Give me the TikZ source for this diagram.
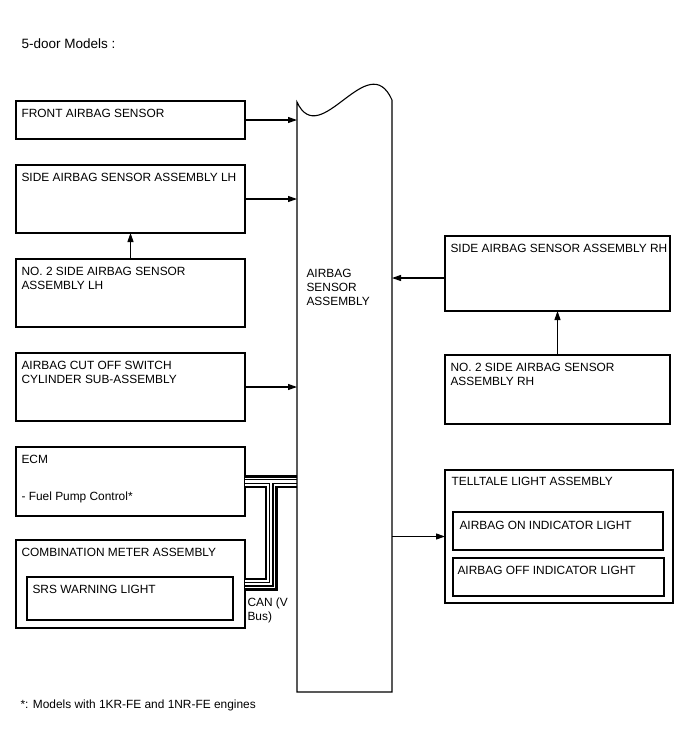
\documentclass[tikz,border=0pt]{standalone}
\usepackage{fontspec}
\setmainfont{Liberation Sans}
\usetikzlibrary{arrows.meta,calc}

\tikzset{
  box/.style={draw,anchor=north west,inner sep=0pt,outer sep=0pt},
  lbl/.style={anchor=north west,align=left,inner xsep=5pt,inner ysep=8pt},
}

\begin{document}
\begin{tikzpicture}[x=1pt,y=-1pt,line width=1.1pt,>={Triangle[length=9pt,width=6pt]},
    font=\fontsize{11.9}{14}\selectfont]
  \useasboundingbox (0,0) rectangle (688,755);
  \node[anchor=north west,inner sep=0pt,font=\fontsize{13.5}{16}\selectfont] (title) at (21,38) {5-door Models :};

  % left column
  \node[box,minimum width=229pt,minimum height=38pt,label={[lbl]north west:FRONT AIRBAG SENSOR}] (front) at (16,101) {};
  \node[box,minimum width=229pt,minimum height=68pt,label={[lbl]north west:SIDE AIRBAG SENSOR ASSEMBLY LH}] (sideL) at (16,165) {};
  \node[box,minimum width=229pt,minimum height=68pt,label={[lbl]north west:{NO. 2 SIDE AIRBAG SENSOR\\ASSEMBLY LH}}] (noLH) at (16,259) {};
  \node[box,minimum width=229pt,minimum height=68pt,label={[lbl]north west:{AIRBAG CUT OFF SWITCH\\CYLINDER SUB-ASSEMBLY}}] (cutoff) at (16,353) {};
  \node[box,minimum width=229pt,minimum height=69pt,label={[lbl]north west:{ECM\\[23pt]- Fuel Pump Control*}}] (ecm) at (16,447) {};
  \node[box,minimum width=229pt,minimum height=88pt,label={[lbl]north west:COMBINATION METER ASSEMBLY}] (comb) at (16,540) {};
  \node[box,minimum width=206pt,minimum height=43pt,label={[lbl]north west:SRS WARNING LIGHT}] (srs) at (27,577) {};

  % airbag sensor assembly
  \node[box,draw=none,minimum width=95pt,minimum height=592pt] (sensor) at (297,100) {};
  \node[anchor=north west,align=left,inner sep=0pt] (sensortxt) at (306,269) {AIRBAG\\SENSOR\\ASSEMBLY};

  % right column
  \node[box,minimum width=225pt,minimum height=75pt,label={[lbl]north west:SIDE AIRBAG SENSOR ASSEMBLY RH}] (sideR) at (445,236) {};
  \node[box,minimum width=225pt,minimum height=69pt,label={[lbl]north west:{NO. 2 SIDE AIRBAG SENSOR\\ASSEMBLY RH}}] (noRH) at (445,355) {};
  \node[box,minimum width=228pt,minimum height=133pt,label={[lbl,inner ysep=7pt,inner xsep=6pt]north west:TELLTALE LIGHT ASSEMBLY}] (tell) at (445,470) {};
  \node[box,minimum width=210pt,minimum height=38pt,label={[lbl,inner xsep=6pt,inner ysep=9pt]north west:AIRBAG ON INDICATOR LIGHT}] (onlamp) at (453,512) {};
  \node[box,minimum width=211pt,minimum height=38pt,label={[lbl,inner xsep=4pt]north west:AIRBAG OFF INDICATOR LIGHT}] (offlamp) at (453,558) {};

  % CAN bus
  \coordinate (tap) at ($(ecm.east)!0.5!(ecm.east -| sensor.west)$);
  \foreach \w/\c in {13/black,8/white,5/black,2.4/white}
    \draw[line width=\w pt,\c] (ecm.east) -- (ecm.east -| sensor.west)
      (tap) -- (tap |- comb.east) -- (comb.east);
  \node[anchor=north west,align=left,inner sep=0pt] (canlbl) at (247,597) {CAN (V\\Bus)};

  \draw (sensor.south west) -- ([yshift=-2pt]sensor.north west)
    .. controls (320,152) and (368,46) .. (sensor.north east) -- (sensor.south east) -- cycle;

  % connectors
  \draw[->] (front.east) -- (front.east -| sensor.west);
  \draw[->] (sideL.east) -- (sideL.east -| sensor.west);
  \draw[->] (noLH.north) -- (sideL.south);
  \draw[->] (cutoff.east) -- (cutoff.east -| sensor.west);
  \draw[->] ([yshift=-4.5pt]sideR.west) -- ([yshift=-4.5pt]sideR.west -| sensor.east);
  \draw[->] (noRH.north) -- (sideR.south);
  \draw[->] (tell.west -| sensor.east) -- (tell.west);

  \node[anchor=north west,inner sep=0pt] (note) at (20,699) {*: Models with 1KR-FE and 1NR-FE engines};
\end{tikzpicture}
\end{document}
